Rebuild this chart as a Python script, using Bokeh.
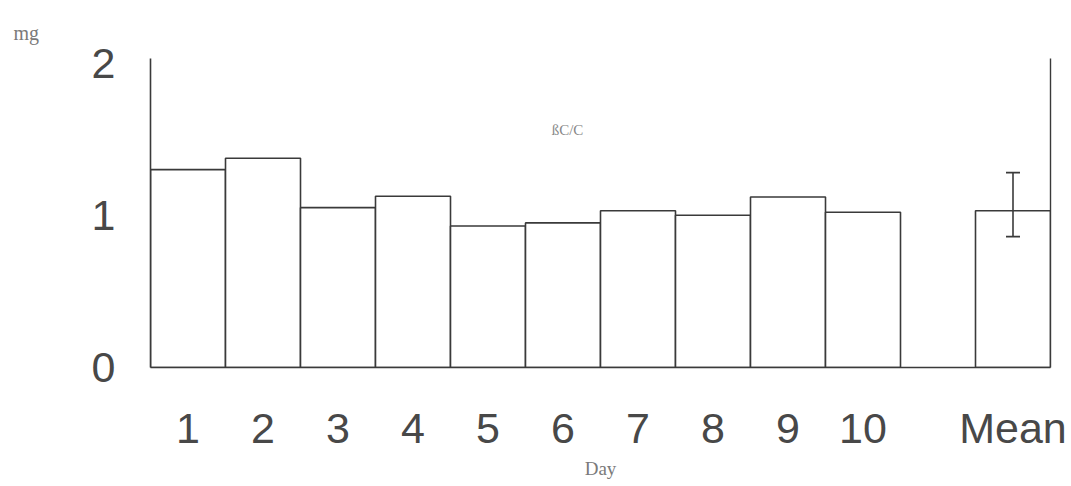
from bokeh.plotting import figure
from bokeh.models import Range1d, LinearAxis, FixedTicker, Label, Whisker, ColumnDataSource
from bokeh.embed import file_html
from bokeh.resources import INLINE

# ---- data ----
days = ["1", "2", "3", "4", "5", "6", "7", "8", "9", "10"]
day_values = [1.30, 1.375, 1.05, 1.125, 0.93, 0.95, 1.03, 1.00, 1.12, 1.02]
mean_label = "Mean"
mean_value = 1.03
mean_err_low = 0.86
mean_err_high = 1.28
y_ticks = [0, 1, 2]
unit = "mg"
series_name = "\u00dfC/C"
x_title = "Day"

INK = "#3a3a3a"
FONT = "Liberation Sans"

x_days = list(range(1, len(days) + 1))
x_mean = len(days) + 2

p = figure(width=1071, height=486, output_backend="svg", toolbar_location=None,
           x_range=Range1d(0.5, x_mean + 0.5), y_range=Range1d(0, 2.03),
           min_border_left=150, min_border_right=21, min_border_top=58,
           min_border_bottom=119, x_axis_location="below", y_axis_location="left")
p.outline_line_color = None
p.grid.visible = False
p.background_fill_color = "white"
p.border_fill_color = "white"

# unit shown as a small title at the top left
p.title.text = unit
p.title.align = "left"
p.title.offset = -137
p.title.text_font = "Liberation Serif"
p.title.text_font_size = "20px"
p.title.text_font_style = "normal"
p.title.text_color = "#7a7a7a"
p.title.standoff = 29

src = ColumnDataSource(dict(x=x_days, top=day_values))
p.vbar(x="x", top="top", width=1.0, bottom=0, source=src,
       fill_color="white", line_color=INK, line_width=1.6)
msrc = ColumnDataSource(dict(x=[x_mean], top=[mean_value], lo=[mean_err_low], hi=[mean_err_high]))
p.vbar(x="x", top="top", width=1.0, bottom=0, source=msrc,
       fill_color="white", line_color=INK, line_width=1.6)
w = Whisker(base="x", lower="lo", upper="hi", source=msrc, line_color=INK, line_width=1.6,
            level="overlay")
for head in (w.upper_head, w.lower_head):
    head.size = 14
    head.line_color = INK
    head.line_width = 1.6
p.add_layout(w)

# x axis
xa = p.xaxis[0]
xa.ticker = FixedTicker(ticks=x_days + [x_mean])
xa.major_label_overrides = {**{x: d for x, d in zip(x_days, days)}, x_mean: mean_label}
xa.major_tick_line_color = None
xa.minor_tick_line_color = None
xa.axis_line_color = INK
xa.axis_line_width = 1.6
xa.major_label_text_font = FONT
xa.major_label_text_font_size = "43px"
xa.major_label_text_color = "#484848"
xa.major_label_standoff = 30
xa.axis_label = x_title
xa.axis_label_text_font = "Liberation Serif"
xa.axis_label_text_font_size = "19px"
xa.axis_label_text_font_style = "normal"
xa.axis_label_text_color = "#7a7a7a"
xa.axis_label_standoff = 3

# y axis
ya = p.yaxis[0]
ya.ticker = FixedTicker(ticks=y_ticks)
ya.major_tick_line_color = None
ya.minor_tick_line_color = None
ya.axis_line_color = INK
ya.axis_line_width = 1.6
ya.major_label_text_font = FONT
ya.major_label_text_font_size = "43px"
ya.major_label_text_color = "#484848"
ya.major_label_standoff = 29

# right-hand frame line
ra = LinearAxis(ticker=FixedTicker(ticks=[]), axis_line_color=INK, axis_line_width=1.4,
                major_tick_line_color=None, minor_tick_line_color=None,
                major_label_text_font_size="0px")
p.add_layout(ra, "right")

p.add_layout(Label(x=6.06, y=1.56, text=series_name, text_font="Liberation Serif",
                   text_font_size="15px", text_color="#888888",
                   text_align="center", text_baseline="middle"))

open("out.html", "w").write(file_html(p, INLINE))
